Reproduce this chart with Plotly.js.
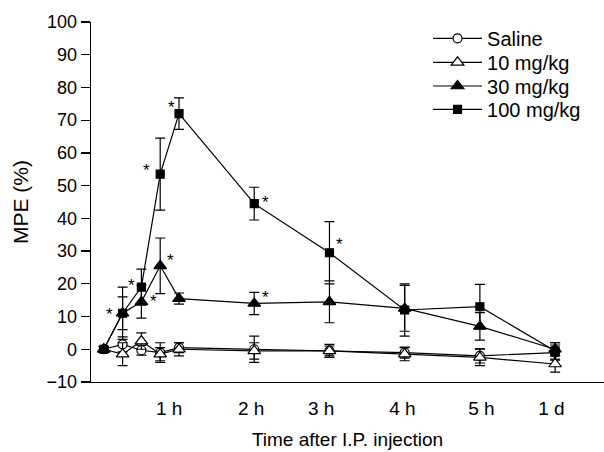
<!DOCTYPE html>
<html>
<head>
<meta charset="utf-8">
<script src="https://cdn.plot.ly/plotly-3.0.1.min.js"></script>
<style>html,body{margin:0;padding:0;background:#fff;}#chart{width:604px;height:452px;}</style>
</head>
<body>
<div id="chart"></div>
<script>
// Time points in hours (1 d placed at position 6 on the axis)
var times = [0, 0.25, 0.5, 0.75, 1, 2, 3, 4, 5, 6];
var tickPos = [0.87, 1.96, 2.89, 3.97, 5.02, 5.95];
var tickLabels = ["1 h", "2 h", "3 h", "4 h", "5 h", "1 d"];

var seriesNames = ["Saline", "10 mg/kg", "30 mg/kg", "100 mg/kg"];
var saline     = [0, 1.5, -0.3, -1.0, 0.5, 0.0, -0.5, -1.0, -2.0, -1.0];
var salineErr  = [0.8, 2.3, 1.5, 3.0, 1.5, 4.0, 1.5, 1.7, 2.2, 2.3];
var mg10       = [0, -1.5, 2.5, -1.5, 0.0, -0.5, -0.5, -1.5, -2.5, -4.5];
var mg10Err    = [0.8, 3.5, 2.5, 2.0, 2.0, 2.5, 2.0, 2.0, 2.5, 2.5];
var mg30       = [0, 11.0, 14.5, 25.5, 15.5, 14.0, 14.5, 12.5, 7.0, 0.0];
var mg30Err    = [0.8, 5.0, 5.0, 8.5, 1.7, 3.4, 6.4, 7.0, 4.2, 2.0];
var mg100      = [0, 11.0, 19.0, 53.5, 72.0, 44.5, 29.5, 12.0, 13.0, -0.5];
var mg100Err   = [0.8, 8.0, 5.5, 11.0, 4.8, 5.0, 9.5, 8.0, 6.8, 2.5];

// significance markers: [series index, time index, x shift px, y shift px]
var stars = [
  [3, 1, -13, -1], [3, 2, -10, 2], [3, 3, -14, 4], [3, 4, -8, 6],
  [2, 3, 10, 5], [2, 2, 12, 0], [3, 5, 11, 1], [3, 6, 10, 8], [2, 5, 11, 6]
];

var values = [saline, mg10, mg30, mg100];
var errors = [salineErr, mg10Err, mg30Err, mg100Err];
var symbols = ["circle", "triangle-up", "triangle-up", "square"];
var fills = ["#fff", "#fff", "#000", "#000"];
var sizes = [9, 11, 11, 8];
var legendIds = ["legend", "legend2", "legend3", "legend4"];

var traces = values.map(function (v, i) {
  return {
    x: times, y: v, name: seriesNames[i], type: "scatter", mode: "lines+markers",
    legend: legendIds[i],
    line: {color: "#000", width: 1.2},
    marker: {symbol: symbols[i], size: sizes[i], color: fills[i],
             line: {color: "#000", width: 1.2}},
    error_y: {type: "data", array: errors[i], visible: true,
              color: "#000", thickness: 1.2, width: 5}
  };
});

var annotations = stars.map(function (s) {
  return {x: times[s[1]], y: values[s[0]][s[1]], xref: "x", yref: "y",
          text: "*", showarrow: false, xshift: s[2], yshift: s[3],
          font: {size: 17, color: "#000", family: "Liberation Sans, Arial, sans-serif"}};
});

function legendAt(yPaper) {
  return {x: 0.657, y: yPaper, xanchor: "left", yanchor: "middle",
          font: {size: 20, color: "#000"}, itemwidth: 49,
          bgcolor: "rgba(0,0,0,0)", borderwidth: 0};
}

var layout = {
  width: 604, height: 452,
  margin: {l: 91, r: 0, t: 22, b: 70},
  paper_bgcolor: "#fff", plot_bgcolor: "#fff",
  font: {family: "Liberation Sans, Arial, sans-serif", size: 18, color: "#000"},
  showlegend: true,
  legend: legendAt(0.9547),
  legend2: legendAt(0.888),
  legend3: legendAt(0.8222),
  legend4: legendAt(0.7575),
  xaxis: {range: [-0.17, 6.65], showline: true, linecolor: "#000", linewidth: 1.3,
          showgrid: false, zeroline: false, ticks: "outside", ticklen: 9,
          tickcolor: "rgba(0,0,0,0)", tickmode: "array",
          tickvals: tickPos, ticktext: tickLabels, tickfont: {size: 19},
          title: {text: "Time after I.P. injection", font: {size: 19}, standoff: 14}},
  yaxis: {range: [-10, 100], showline: true, linecolor: "#000", linewidth: 1.3,
          showgrid: false, zeroline: false, ticks: "outside", ticklen: 9,
          tickwidth: 1.3, tickcolor: "#000", dtick: 10, tick0: 0,
          tickfont: {size: 18},
          title: {text: "MPE (%)", font: {size: 21}, standoff: 12}},
  annotations: annotations
};

Plotly.newPlot("chart", traces, layout, {displayModeBar: false, staticPlot: true});
</script>
</body>
</html>
